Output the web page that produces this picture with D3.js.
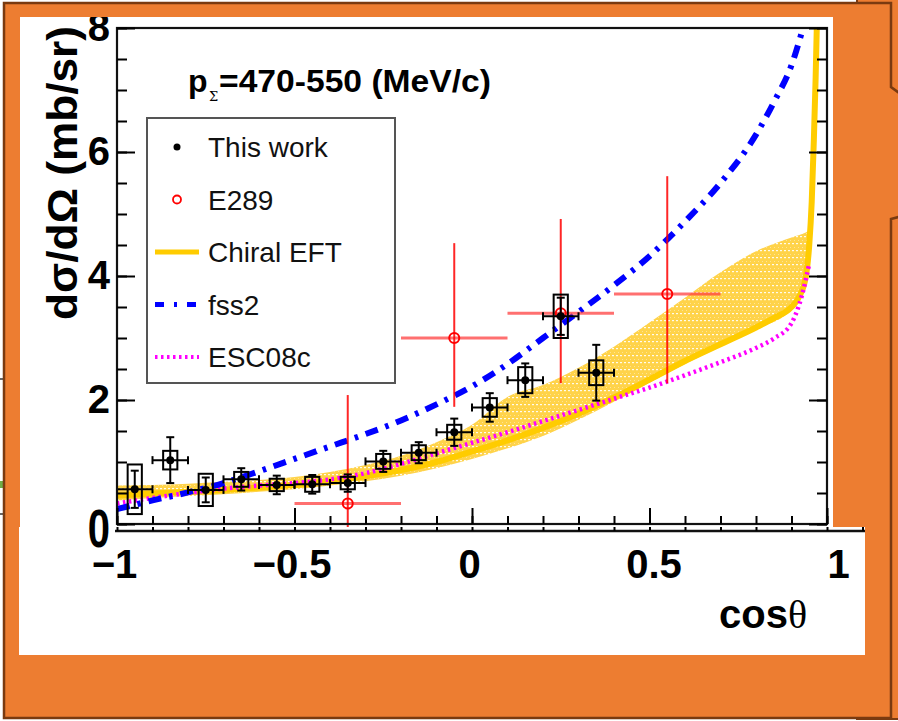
<!DOCTYPE html>
<html>
<head>
<meta charset="utf-8">
<script src="https://cdn.jsdelivr.net/npm/d3@7"></script>
<style>
  html, body { margin: 0; padding: 0; background: #ffffff; }
  svg { display: block; }
</style>
</head>
<body>
<svg id="chart" width="898" height="721"></svg>
<script>
// ---- Σ⁻p differential cross section, p_Σ = 470-550 MeV/c ----

// This work: bin centres, values, statistical and systematic errors
const thisWorkCos  = [-0.95, -0.85, -0.75, -0.65, -0.55, -0.45, -0.35, -0.25, -0.15, -0.05, 0.05, 0.15, 0.25, 0.35];
const thisWorkVal  = [0.56, 1.03, 0.55, 0.72, 0.63, 0.64, 0.66, 1.01, 1.15, 1.48, 1.88, 2.32, 3.35, 2.44];
const thisWorkStat = [0.30, 0.37, 0.20, 0.18, 0.15, 0.15, 0.14, 0.17, 0.17, 0.22, 0.23, 0.27, 0.30, 0.45];
const thisWorkSys  = [0.40, 0.15, 0.26, 0.12, 0.10, 0.12, 0.10, 0.12, 0.12, 0.12, 0.15, 0.21, 0.35, 0.20];
const thisWorkBinHalf = 0.05;
const thisWorkSysHalf = 0.02;

// E289 (KEK) data
const e289Cos    = [-0.35, -0.05, 0.25, 0.55];
const e289Val    = [0.33, 3.00, 3.40, 3.71];
const e289ErrUp  = [1.75, 1.53, 1.52, 1.90];
const e289ErrLow = [1.75, 1.11, 1.13, 1.44];
const e289BinHalf = 0.15;

// Chiral EFT central curve and uncertainty band
const chiralCos = [-1, -0.9, -0.8, -0.7, -0.6, -0.5, -0.4, -0.3, -0.2, -0.1, 0, 0.1, 0.2, 0.3, 0.4, 0.5, 0.6, 0.7, 0.8, 0.85, 0.9, 0.92, 0.94, 0.95, 0.957, 0.963, 0.968, 0.972];
const chiralVal = [0.46, 0.49, 0.52, 0.55, 0.59, 0.63, 0.69, 0.77, 0.87, 1.00, 1.17, 1.35, 1.55, 1.78, 2.04, 2.33, 2.63, 2.90, 3.17, 3.32, 3.50, 3.65, 3.98, 4.50, 5.20, 6.20, 7.20, 8.20];
const bandCos  = [-1, -0.9, -0.8, -0.7, -0.6, -0.5, -0.4, -0.3, -0.2, -0.1, 0, 0.1, 0.2, 0.3, 0.4, 0.5, 0.6, 0.7, 0.8, 0.9, 0.94, 0.955];
const bandLow  = [0.38, 0.42, 0.45, 0.48, 0.52, 0.56, 0.62, 0.69, 0.78, 0.90, 1.05, 1.22, 1.42, 1.68, 1.97, 2.28, 2.58, 2.86, 3.14, 3.46, 3.90, 4.55];
const bandHigh = [0.62, 0.63, 0.65, 0.68, 0.71, 0.76, 0.84, 0.95, 1.10, 1.32, 1.60, 2.05, 2.24, 2.52, 2.86, 3.25, 3.65, 4.06, 4.40, 4.62, 4.70, 4.75];

// fss2 and ESC08c model curves
const fss2Cos = [-1, -0.9, -0.8, -0.7, -0.6, -0.5, -0.4, -0.3, -0.2, -0.1, 0, 0.1, 0.2, 0.3, 0.4, 0.5, 0.6, 0.7, 0.8, 0.85, 0.9, 0.935];
const fss2Val = [0.24, 0.38, 0.51, 0.66, 0.85, 1.05, 1.25, 1.45, 1.67, 1.93, 2.22, 2.58, 3.00, 3.42, 3.85, 4.32, 4.88, 5.50, 6.28, 6.80, 7.40, 8.05];
const escCos = [-1, -0.9, -0.8, -0.7, -0.6, -0.5, -0.4, -0.3, -0.2, -0.1, 0, 0.1, 0.2, 0.3, 0.4, 0.5, 0.6, 0.7, 0.8, 0.85, 0.9, 0.93, 0.95];
const escVal = [0.33, 0.42, 0.50, 0.57, 0.62, 0.66, 0.72, 0.82, 0.97, 1.14, 1.31, 1.48, 1.66, 1.84, 2.02, 2.20, 2.40, 2.61, 2.84, 2.99, 3.24, 3.70, 4.20];

// Axis ticks and labels
const xMajorTicks = [-1, -0.5, 0, 0.5, 1];
const xTickLabels = ["\u22121", "\u22120.5", "0", "0.5", "1"];
const xMinorTicks = d3.range(-10, 11).map(i => i / 10);
const yMajorTicks = [0, 2, 4, 6, 8];
const yMinorTicks = d3.range(0, 17).map(i => i / 2);

const legendLabels = ["This work", "E289", "Chiral EFT", "fss2", "ESC08c"];

// ---- colours ----
const ORANGE = "#ED7D31", BROWN = "#7A3A10";
const YELLOW = "#FFCC00", BLUE = "#0000FF", MAGENTA = "#FF00FF", RED = "#FF0000";
const FONT = "'Liberation Sans', Arial, Helvetica, sans-serif";

const svg = d3.select("#chart");
const defs = svg.append("defs");

// ---- slide background ----
svg.append("line").attr("x1", 0).attr("x2", 6).attr("y1", 379).attr("y2", 379).attr("stroke", "#333").attr("stroke-width", 1.5);
svg.append("rect").attr("x", 0).attr("y", 481).attr("width", 6).attr("height", 7).attr("fill", "#70AD47");
svg.append("line").attr("x1", 0).attr("x2", 6).attr("y1", 514).attr("y2", 514).attr("stroke", "#333").attr("stroke-width", 1.5);

svg.append("rect").attr("x", 857).attr("y", -5).attr("width", 60).attr("height", 724)
  .attr("fill", ORANGE).attr("stroke", BROWN).attr("stroke-width", 2);
svg.append("path")
  .attr("d", "M4,3 H891 V87 L902,95 V216 L891,219 V718 H4 Z")
  .attr("fill", ORANGE).attr("stroke", BROWN).attr("stroke-width", 2.5);

// white picture panels
const topPanel = { x: 20, y: 17, w: 813, h: 510 };
const lowPanel = { x: 19, y: 527, w: 846, h: 128 };
svg.append("rect").attr("x", topPanel.x).attr("y", topPanel.y).attr("width", topPanel.w).attr("height", topPanel.h).attr("fill", "#fff");
svg.append("rect").attr("x", lowPanel.x).attr("y", lowPanel.y).attr("width", lowPanel.w).attr("height", lowPanel.h).attr("fill", "#fff");

defs.append("clipPath").attr("id", "clipTop").append("rect")
  .attr("x", topPanel.x).attr("y", topPanel.y).attr("width", topPanel.w).attr("height", topPanel.h);
defs.append("clipPath").attr("id", "clipLow").append("rect")
  .attr("x", lowPanel.x).attr("y", lowPanel.y).attr("width", lowPanel.w).attr("height", lowPanel.h);

// ---- scales ----
const x = d3.scaleLinear().domain([-1, 1]).range([117, 827]);
const y = d3.scaleLinear().domain([0, 8]).range([524, 28]);
const xLabel = d3.scaleLinear().domain([-1, 0, 1]).range([114, 469, 838]);

defs.append("clipPath").attr("id", "clipPlot").append("rect")
  .attr("x", x(-1)).attr("y", y(8)).attr("width", x(1) - x(-1)).attr("height", y(0) - y(8) + 7);

// hatched fill for the chiral EFT band
const pat = defs.append("pattern").attr("id", "bandFill").attr("patternUnits", "userSpaceOnUse")
  .attr("width", 4).attr("height", 7);
pat.append("rect").attr("width", 4).attr("height", 7).attr("fill", "#FFCC2A").attr("opacity", 0.85);
pat.append("rect").attr("x", 0).attr("y", 5).attr("width", 2).attr("height", 1.2).attr("fill", "#ffffff").attr("opacity", 0.9);
pat.append("rect").attr("x", 2).attr("y", 2).attr("width", 1).attr("height", 1).attr("fill", "#ffffff").attr("opacity", 0.4);

const topG = svg.append("g").attr("clip-path", "url(#clipTop)");
const plot = topG.append("g").attr("clip-path", "url(#clipPlot)");

// ---- theory curves ----
const zip = (xs, ys) => xs.map((v, i) => [v, ys[i]]);
const line = d3.line().x(d => x(d[0])).y(d => y(d[1])).curve(d3.curveMonotoneX);
const band = d3.area().x(d => x(d[0])).y0(d => y(d[1])).y1(d => y(d[2])).curve(d3.curveMonotoneX);

plot.append("path").datum(bandCos.map((c, i) => [c, bandLow[i], bandHigh[i]]))
  .attr("d", band).attr("fill", "url(#bandFill)");
plot.append("path").datum(zip(chiralCos, chiralVal)).attr("d", line)
  .attr("fill", "none").attr("stroke", YELLOW).attr("stroke-width", 6);
plot.append("path").datum(zip(escCos, escVal)).attr("d", line)
  .attr("fill", "none").attr("stroke", MAGENTA).attr("stroke-width", 4.5).attr("stroke-dasharray", "2.5,3.5");
plot.append("path").datum(zip(fss2Cos, fss2Val)).attr("d", line)
  .attr("fill", "none").attr("stroke", BLUE).attr("stroke-width", 6).attr("stroke-dasharray", "13,8,3.5,8");

// ---- E289 data ----
const e289 = plot.append("g");
e289Cos.forEach((c, i) => {
  const g = e289.append("g");
  g.append("line").attr("x1", x(c - e289BinHalf)).attr("x2", x(c + e289BinHalf))
    .attr("y1", y(e289Val[i])).attr("y2", y(e289Val[i]))
    .attr("stroke", "#FF4040").attr("stroke-opacity", 0.75).attr("stroke-width", 3);
  g.append("line").attr("x1", x(c)).attr("x2", x(c))
    .attr("y1", y(e289Val[i] + e289ErrUp[i])).attr("y2", y(e289Val[i] - e289ErrLow[i]))
    .attr("stroke", RED).attr("stroke-opacity", 0.85).attr("stroke-width", 2);
  g.append("circle").attr("cx", x(c)).attr("cy", y(e289Val[i])).attr("r", 5)
    .attr("fill", "none").attr("stroke", RED).attr("stroke-width", 2);
});

// ---- This work ----
const tw = plot.append("g").attr("stroke", "#000").attr("stroke-width", 2).attr("fill", "none");
const cap = 4;
thisWorkCos.forEach((c, i) => {
  const v = thisWorkVal[i];
  tw.append("rect")
    .attr("x", x(c - thisWorkSysHalf)).attr("width", x(c + thisWorkSysHalf) - x(c - thisWorkSysHalf))
    .attr("y", y(v + thisWorkSys[i])).attr("height", y(v - thisWorkSys[i]) - y(v + thisWorkSys[i]));
  const x0 = x(c - thisWorkBinHalf), x1 = x(c + thisWorkBinHalf);
  const yHi = y(v + thisWorkStat[i]), yLo = y(v - thisWorkStat[i]);
  tw.append("line").attr("x1", x0).attr("x2", x1).attr("y1", y(v)).attr("y2", y(v));
  tw.append("line").attr("x1", x0).attr("x2", x0).attr("y1", y(v) - cap).attr("y2", y(v) + cap);
  tw.append("line").attr("x1", x1).attr("x2", x1).attr("y1", y(v) - cap).attr("y2", y(v) + cap);
  tw.append("line").attr("x1", x(c)).attr("x2", x(c)).attr("y1", yHi).attr("y2", yLo);
  tw.append("line").attr("x1", x(c) - cap).attr("x2", x(c) + cap).attr("y1", yHi).attr("y2", yHi);
  tw.append("line").attr("x1", x(c) - cap).attr("x2", x(c) + cap).attr("y1", yLo).attr("y2", yLo);
  tw.append("circle").attr("cx", x(c)).attr("cy", y(v)).attr("r", 4).attr("fill", "#000").attr("stroke", "none");
});

// ---- frame and axes ----
function styleAxis(g) {
  g.select(".domain").remove();
  g.selectAll(".tick line").attr("stroke", "#000").attr("stroke-width", 2);
}
topG.append("rect").attr("x", x(-1)).attr("y", y(8)).attr("width", x(1) - x(-1)).attr("height", y(0) - y(8))
  .attr("fill", "none").attr("stroke", "#111").attr("stroke-width", 2.2);

topG.append("g").attr("transform", `translate(${x(-1)},0)`)
  .call(d3.axisLeft(y).tickValues(yMinorTicks).tickSize(-10).tickFormat("")).call(styleAxis);
// the zero label straddles both strips and is drawn separately below
topG.append("g").attr("transform", `translate(${x(-1)},0)`)
  .call(d3.axisLeft(y).tickValues(yMajorTicks).tickSize(-18).tickPadding(7)
    .tickFormat(d => d === 0 ? "" : d3.format("d")(d)))
  .call(styleAxis)
  .call(g => g.selectAll("text").attr("font-family", FONT).attr("font-weight", "bold")
    .attr("font-size", 40).attr("fill", "#000"));
topG.append("g").attr("transform", `translate(${x(1)},0)`)
  .call(d3.axisRight(y).tickValues(yMinorTicks).tickSize(-10).tickFormat("")).call(styleAxis);
topG.append("g").attr("transform", `translate(${x(1)},0)`)
  .call(d3.axisRight(y).tickValues(yMajorTicks).tickSize(-18).tickFormat("")).call(styleAxis);
topG.append("g").attr("transform", `translate(0,${y(0)})`)
  .call(d3.axisBottom(x).tickValues(xMinorTicks).tickSize(-8).tickFormat("")).call(styleAxis);
topG.append("g").attr("transform", `translate(0,${y(0)})`)
  .call(d3.axisBottom(x).tickValues(xMajorTicks).tickSize(-16).tickFormat("")).call(styleAxis);

// ---- title text ----
topG.append("text").attr("x", 188).attr("y", 92).attr("font-family", FONT).attr("font-weight", "bold")
  .attr("font-size", 32).attr("fill", "#000").text("p");
topG.append("text").attr("x", 209).attr("y", 101).attr("font-family", "'DejaVu Serif', serif")
  .attr("font-size", 13).attr("fill", "#000").text("\u03A3");
topG.append("text").attr("x", 219).attr("y", 92).attr("font-family", FONT).attr("font-weight", "bold")
  .attr("font-size", 32).attr("fill", "#000").attr("textLength", 272).attr("lengthAdjust", "spacingAndGlyphs")
  .text("=470-550 (MeV/c)");

// y-axis title
topG.append("text").attr("transform", `translate(77,${(y(8) + 322) / 2 - 2}) rotate(-90)`)
  .attr("text-anchor", "middle").attr("font-family", FONT).attr("font-weight", "bold")
  .attr("font-size", 43).attr("fill", "#000")
  .attr("textLength", 294).attr("lengthAdjust", "spacingAndGlyphs")
  .text("d\u03C3/d\u03A9 (mb/sr)");

// ---- legend ----
const leg = topG.append("g");
leg.append("rect").attr("x", 147).attr("y", 118).attr("width", 248).attr("height", 265)
  .attr("fill", "#fff").attr("stroke", "#555").attr("stroke-width", 2);
const rowY = d3.scalePoint().domain(legendLabels).range([147, 357]);
legendLabels.forEach(lbl => {
  leg.append("text").attr("x", 208).attr("y", rowY(lbl) + 10).attr("font-family", FONT)
    .attr("font-size", 28).attr("fill", "#111").text(lbl);
});
leg.append("circle").attr("cx", 177).attr("cy", rowY("This work")).attr("r", 3.5).attr("fill", "#000");
leg.append("circle").attr("cx", 177).attr("cy", rowY("E289")).attr("r", 4).attr("fill", "none")
  .attr("stroke", RED).attr("stroke-width", 1.8);
leg.append("line").attr("x1", 155).attr("x2", 199).attr("y1", rowY("Chiral EFT")).attr("y2", rowY("Chiral EFT"))
  .attr("stroke", YELLOW).attr("stroke-width", 5);
leg.append("line").attr("x1", 155).attr("x2", 199).attr("y1", rowY("fss2")).attr("y2", rowY("fss2"))
  .attr("stroke", BLUE).attr("stroke-width", 5).attr("stroke-dasharray", "9,10,3,10");
leg.append("line").attr("x1", 155).attr("x2", 199).attr("y1", rowY("ESC08c")).attr("y2", rowY("ESC08c"))
  .attr("stroke", MAGENTA).attr("stroke-width", 4).attr("stroke-dasharray", "2.5,3.5");

// ---- lower strip: x-axis labels ----
const low = svg.append("g").attr("clip-path", "url(#clipLow)");
const yLowAxis = y(0) + 7;
low.append("line").attr("x1", 115).attr("x2", 865).attr("y1", yLowAxis).attr("y2", yLowAxis)
  .attr("stroke", "#111").attr("stroke-width", 2.5);
low.append("g").attr("transform", `translate(0,${yLowAxis})`)
  .call(d3.axisBottom(x).tickValues(d3.range(-10, 12).map(i => i / 10)).tickSize(-8).tickFormat("")).call(styleAxis);
low.append("g").attr("transform", `translate(0,${yLowAxis})`)
  .call(d3.axisBottom(xLabel).tickValues(xMajorTicks).tickSize(0).tickPadding(19)
    .tickFormat((d, i) => xTickLabels[i]))
  .call(g => g.select(".domain").remove())
  .call(g => g.selectAll("text").attr("font-family", FONT).attr("font-weight", "bold")
    .attr("font-size", 40).attr("fill", "#000"));

// zero label of the y axis, spanning the seam between the two strips
svg.append("text")
  .attr("transform", `translate(${x(-1) - 7},${y(yMajorTicks[0]) + 4}) scale(1,1.35)`)
  .attr("text-anchor", "end").attr("dy", "0.36em")
  .attr("font-family", FONT).attr("font-weight", "bold").attr("font-size", 40).attr("fill", "#000")
  .text(d3.format("d")(yMajorTicks[0]));

// x-axis title
const xt = low.append("text").attr("x", 719).attr("y", 628).attr("font-family", FONT)
  .attr("font-weight", "bold").attr("font-size", 40).attr("fill", "#000");
xt.append("tspan").text("cos");
xt.append("tspan").attr("font-family", "'Liberation Serif', 'DejaVu Serif', serif").attr("font-weight", "normal").text("\u03B8");
</script>
</body>
</html>
